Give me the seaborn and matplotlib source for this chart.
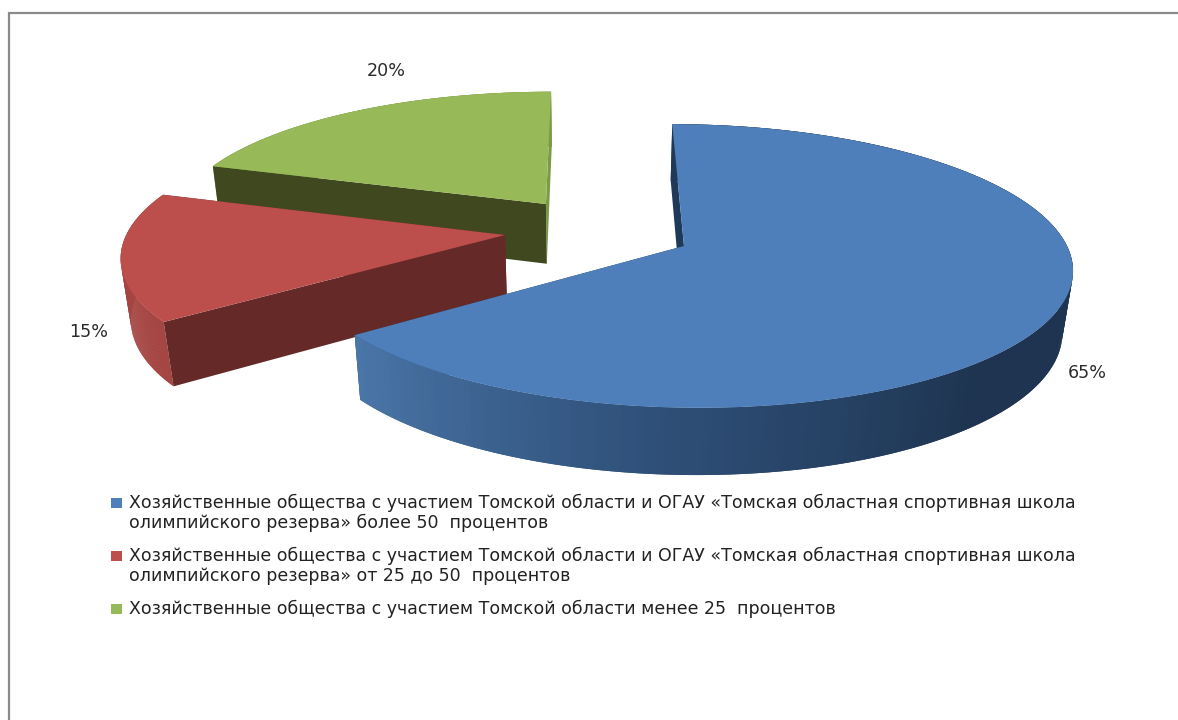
import numpy as np
import matplotlib
matplotlib.use("Agg")
import matplotlib.pyplot as plt
import seaborn as sns

# data
shares = [65, 15, 20]
legend_lines = [
    ["Хозяйственные общества с участием Томской области и ОГАУ «Томская областная спортивная школа",
     "олимпийского резерва» более 50  процентов"],
    ["Хозяйственные общества с участием Томской области и ОГАУ «Томская областная спортивная школа",
     "олимпийского резерва» от 25 до 50  процентов"],
    ["Хозяйственные общества с участием Томской области менее 25  процентов"],
]
top_colors = ["#4e7fba", "#bc4f4c", "#98b958"]
start_wall_colors = ["#1f3a58", "#652a28", "#404820"]
end_wall_colors = ["#1f3a58", "#652a28", "#7a9a46"]
side_colors = ["#1e3450", "#a54542", "#7a9a46"]

# camera, fitted on the picture (px)
X0, Y0 = 589, 246
RX, RY = 383, 139
PERSP, PERSP_Z = 0.141, 0.022
DEPTH = 62.8
explode = [(95, 0.0), (-85, 0.08), (-45, 0.3156)]
label_pos = [(1087, 373), (89, 332), (386, 71)]


def project(xw, yw, zw):
    w = 1 + PERSP * yw + PERSP_Z * zw
    return X0 + xw / w, Y0 + (-RY * yw + DEPTH * zw) / w


def arc(i, a0, a1, z, n=160):
    # angles in degrees, clockwise from 12 o'clock
    t = np.radians(np.linspace(a0, a1, n))
    dx, dy = explode[i]
    return project(dx + RX * np.sin(t), dy + np.cos(t), z)


def radial_wall(ax, i, angle, color, z):
    dx, dy = explode[i]
    xo0, yo0 = arc(i, angle, angle, 0, 1)
    xo1, yo1 = arc(i, angle, angle, 1, 1)
    xa0, ya0 = project(dx, dy, 0)
    xa1, ya1 = project(dx, dy, 1)
    ax.fill([xa0, xo0[0], xo1[0], xa1], [ya0, yo0[0], yo1[0], ya1],
            color=color, lw=0, zorder=z)


sns.set_theme(style="white")
plt.rcParams["font.family"] = ["DejaVu Sans"]

W, H = 1178, 720
fig = plt.figure(figsize=(W / 100, H / 100), dpi=100, facecolor="white")
ax = fig.add_axes([0, 0, 1, 1])
ax.set(xlim=(0, W), ylim=(H, 0))
ax.axis("off")

edges = np.concatenate([[0], np.cumsum(shares)]) * 3.6
draw_order = {2: 2, 1: 3, 0: 4}  # back to front: green, red, blue

# gradient on the blue rim, by angle
rim_palette = sns.blend_palette(["#1e3450", "#1e3450", "#2f5079", "#4a76a8"], n_colors=100)
N_STRIPS = 240

for i in [2, 1, 0]:
    a0, a1 = edges[i], edges[i + 1]
    z = draw_order[i]
    radial_wall(ax, i, a1, end_wall_colors[i], z)

    # rim as overlapping strips so no seams show
    steps = np.linspace(a0, a1, N_STRIPS + 1)
    for k in range(N_STRIPS):
        stop = steps[min(k + 2, N_STRIPS)]
        xt, yt = arc(i, steps[k], stop, 0, 4)
        xb, yb = arc(i, steps[k], stop, 1, 4)
        if i == 0:
            pos = (steps[k] - 90) / (a1 - 90)
            col = rim_palette[int(np.clip(pos, 0, 0.999) * 100)]
        else:
            col = side_colors[i]
        ax.fill(np.r_[xt, xb[::-1]], np.r_[yt, yb[::-1]], color=col, lw=0, zorder=z)

    radial_wall(ax, i, a0, start_wall_colors[i], z)

    # top face
    xt, yt = arc(i, a0, a1, 0)
    xa, ya = project(explode[i][0], explode[i][1], 0)
    ax.fill(np.r_[xa, xt], np.r_[ya, yt], color=top_colors[i], lw=0, zorder=z)

    ax.text(*label_pos[i], f"{shares[i]}%", ha="center", va="center",
            fontsize=12.6, color="#2b2b2b")

# legend
legend_y = [503, 556, 609]
for color, lines, y in zip(top_colors, legend_lines, legend_y):
    ax.add_patch(plt.Rectangle((111, y - 5), 11, 10, color=color, lw=0))
    for n, line in enumerate(lines):
        ax.text(129, y + n * 20, line, ha="left", va="center", fontsize=12.5, color="#222222")

# chart frame, only its top and left edges show
ax.plot([9, 9, W + 5], [H + 5, 13, 13], color="#8a8a8a", lw=1.6, solid_joinstyle="miter")

fig.savefig("out.png", dpi=100)
plt.close(fig)
